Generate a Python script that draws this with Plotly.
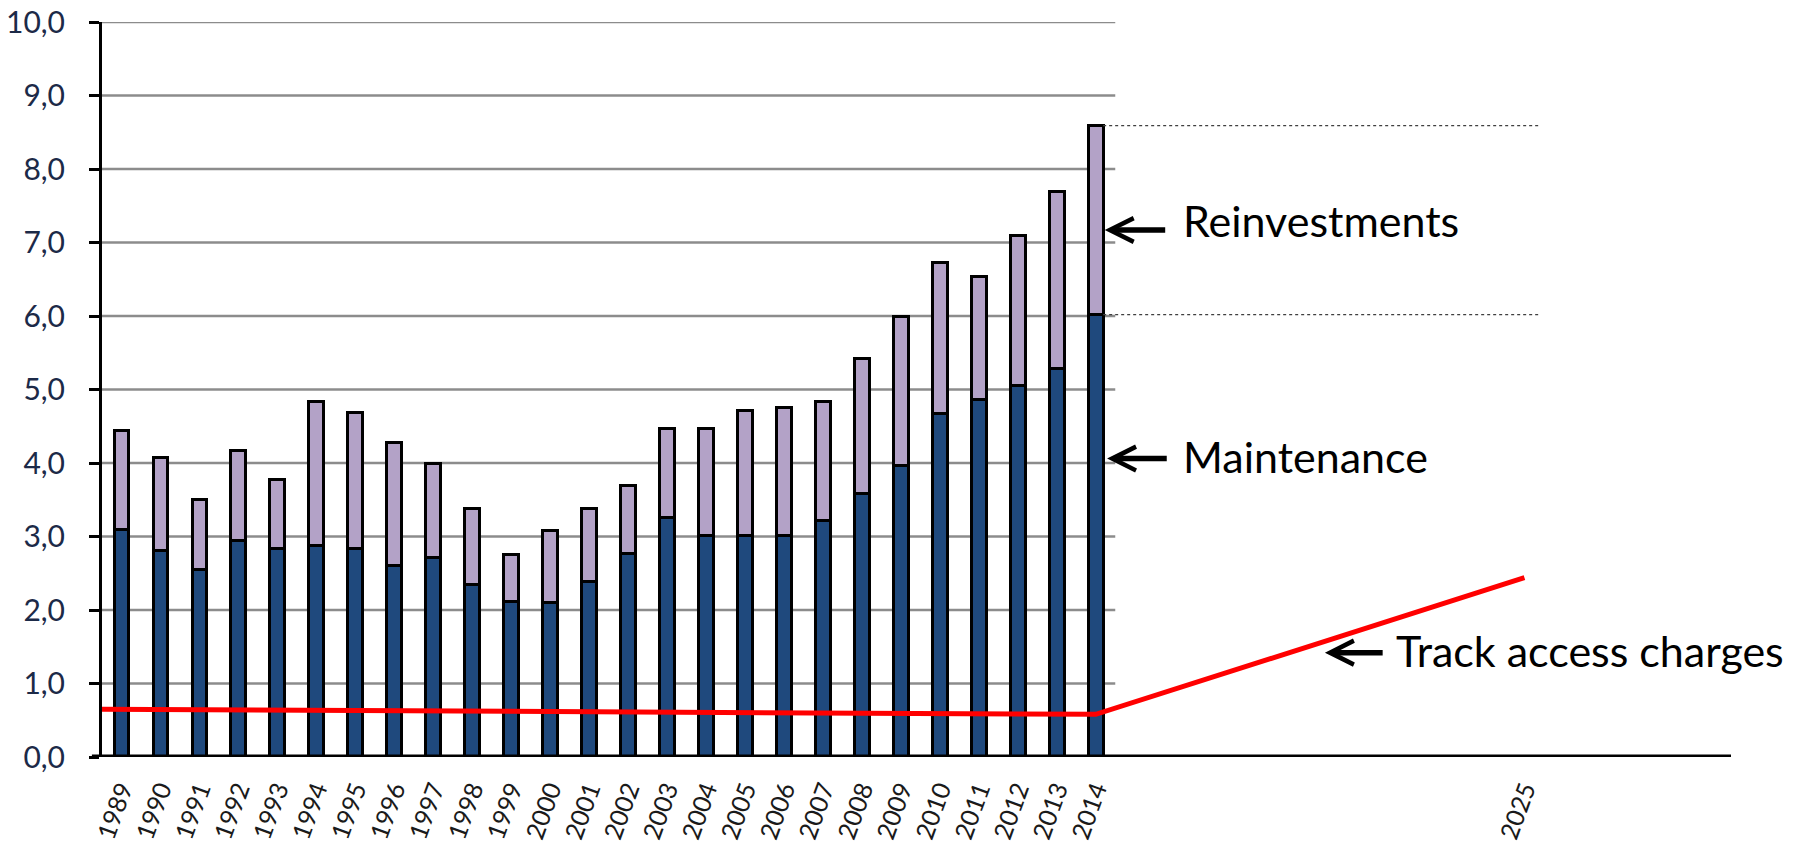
import plotly.graph_objects as go

# Annual rail infrastructure spending (billions), stacked by type
years = [1989, 1990, 1991, 1992, 1993, 1994, 1995, 1996, 1997, 1998, 1999, 2000, 2001,
         2002, 2003, 2004, 2005, 2006, 2007, 2008, 2009, 2010, 2011, 2012, 2013, 2014]
maintenance = [3.10, 2.81, 2.55, 2.95, 2.84, 2.88, 2.84, 2.61, 2.72, 2.35, 2.12, 2.10, 2.39,
               2.77, 3.26, 3.01, 3.01, 3.01, 3.22, 3.58, 3.96, 4.67, 4.86, 5.06, 5.29, 6.02]
reinvestments = [1.34, 1.27, 0.96, 1.22, 0.93, 1.96, 1.85, 1.67, 1.27, 1.03, 0.63, 0.98, 0.99,
                 0.93, 1.21, 1.46, 1.71, 1.74, 1.62, 1.84, 2.04, 2.06, 1.68, 2.03, 2.40, 2.57]

# Track access charges: flat until 2014, projected rise to 2025
track_years = [1988.5, 2014, 2025]
track_charges = [0.65, 0.58, 2.44]

y_ticks = [0, 1, 2, 3, 4, 5, 6, 7, 8, 9, 10]
x_tick_years = years + [2025]

NAVY = "#1F497D"
LILAC = "#B3A2C7"
BAR_W = 0.38
FONT = "Lato"

fig = go.Figure()
fig.add_bar(x=years, y=maintenance, name="Maintenance", width=BAR_W,
            marker=dict(color=NAVY, line=dict(color="black", width=3)))
fig.add_bar(x=years, y=reinvestments, name="Reinvestments", width=BAR_W,
            marker=dict(color=LILAC, line=dict(color="black", width=3)))
fig.add_scatter(x=track_years, y=track_charges, mode="lines", name="Track access charges",
                line=dict(color="#FF0000", width=5))

x_start = years[0] - 0.5
x_end_grid = years[-1] + 0.5

# horizontal gridlines only across the bar region
for v in y_ticks[1:]:
    fig.add_shape(type="line", xref="x", yref="y", x0=x_start, x1=x_end_grid, y0=v, y1=v,
                  line=dict(color="#8c8c8c", width=2.5), layer="below")

# dotted guides from the last bar's segment boundaries
total_last = maintenance[-1] + reinvestments[-1]
for v in (total_last, maintenance[-1]):
    fig.add_shape(type="line", xref="x", yref="y", x0=years[-1] + BAR_W / 2, x1=2025.4,
                  y0=v, y1=v, line=dict(color="#404040", width=1.2, dash="dot"))

# thick baseline
fig.add_shape(type="line", xref="paper", yref="y", x0=-0.0062, x1=1, y0=0, y1=0,
              line=dict(color="black", width=5))

labels = [
    # (tip_x, tail_x, arrow_y, text_x, text_y, text)
    (2014.23, 2015.82, 7.17, 2016.18, 7.30, "Reinvestments"),
    (2014.29, 2015.86, 4.06, 2016.18, 4.09, "Maintenance"),
    (2019.88, 2021.40, 1.42, 2021.65, 1.45, "Track access charges"),
]
for tip_x, tail_x, ay, text_x, ty, txt in labels:
    fig.add_annotation(x=tip_x, y=ay, ax=tail_x, ay=ay, xref="x", yref="y", axref="x", ayref="y",
                       text="", showarrow=True, arrowhead=5, arrowsize=0.85, arrowwidth=5.5,
                       arrowcolor="black")
    fig.add_annotation(x=text_x, y=ty, xref="x", yref="y", text=txt, showarrow=False,
                       xanchor="left", yanchor="middle",
                       font=dict(family=FONT, size=43, color="black"))

fig.update_layout(
    width=1806, height=845,
    margin=dict(l=102, r=75, t=22, b=88, autoexpand=False),
    barmode="stack",
    showlegend=False,
    plot_bgcolor="white",
    paper_bgcolor="white",
    separators=", ",
    xaxis=dict(range=[x_start, 2030.3], tickvals=x_tick_years, automargin=False,
               ticktext=[str(y) for y in x_tick_years], tickangle=-70,
               showgrid=False, zeroline=False, showline=False, ticks="",
               ticklabelstandoff=12,
               tickfont=dict(family=FONT, size=25, color="#1a1a1a")),
    yaxis=dict(range=[0, 10], tickvals=y_ticks, tickformat=".1f", automargin=False,
               showgrid=False, zeroline=False, showline=True, linecolor="black", linewidth=3,
               ticks="outside", ticklen=10, tickwidth=3, tickcolor="black",
               ticklabelstandoff=18,
               tickfont=dict(family=FONT, size=30, color="#1c2a48")),
)

fig.write_html("out.html")
